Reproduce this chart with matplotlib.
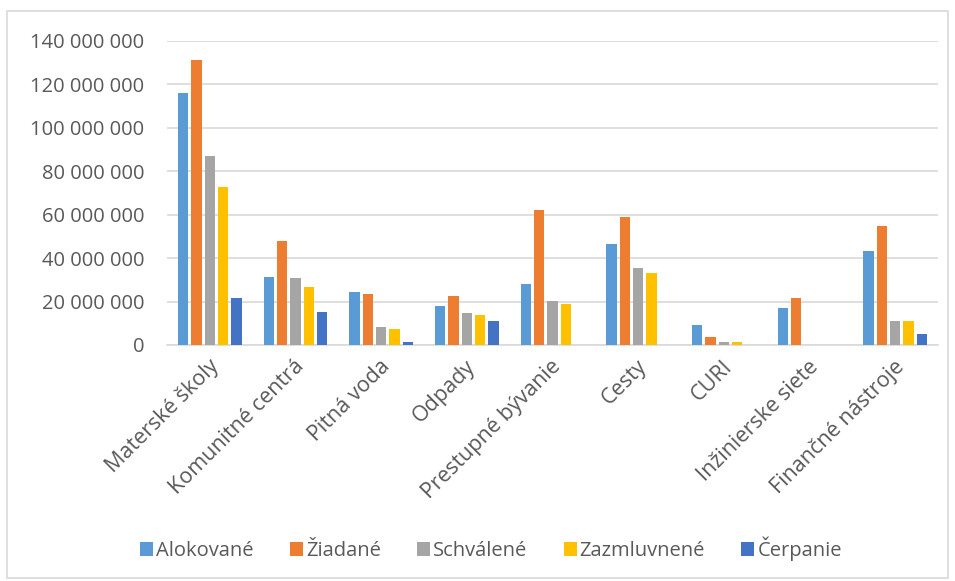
import numpy as np
import matplotlib
matplotlib.use("Agg")
import matplotlib.pyplot as plt
from matplotlib.patches import Rectangle
from matplotlib.ticker import FuncFormatter

categories = ["Materské školy", "Komunitné centrá", "Pitná voda", "Odpady",
              "Prestupné bývanie", "Cesty", "CURI", "Inžinierske siete",
              "Finančné nástroje"]
series_names = ["Alokované", "Žiadané", "Schválené", "Zazmluvnené", "Čerpanie"]

# values in millions
alokovane = [116.1, 31.5, 24.6, 17.8, 28.3, 46.5, 9.2, 17.1, 43.3]
ziadane = [131.2, 47.8, 23.4, 22.6, 62.1, 59.1, 3.7, 21.5, 54.7]
schvalene = [87.0, 30.7, 8.2, 14.7, 20.3, 35.5, 1.4, 0.0, 11.1]
zazmluvnene = [72.7, 26.6, 7.2, 13.7, 18.7, 33.2, 1.4, 0.0, 11.1]
cerpanie = [21.8, 15.1, 1.6, 11.2, 0.0, 0.0, 0.0, 0.0, 5.2]

colors = ["#5B9BD5", "#ED7D31", "#A5A5A5", "#FFC000", "#4472C4"]

plt.rcParams["font.family"] = ["Open Sans", "DejaVu Sans"]
FS = 14.5

fig = plt.figure(figsize=(9.55, 5.81), dpi=100)
ax = fig.add_axes([167 / 955, 1 - 345 / 581, 771 / 955, 304 / 581])

x = np.arange(len(categories))
step = 0.156
width = 0.123
all_series = [alokovane, ziadane, schvalene, zazmluvnene, cerpanie]
for i, (name, vals, col) in enumerate(zip(series_names, all_series, colors)):
    ax.bar(x + (i - 2) * step, np.array(vals) * 1e6, width, color=col, label=name, zorder=3)

ax.set_xlim(-0.5, len(categories) - 0.5)
ax.set_ylim(0, 140e6)
ax.set_yticks(np.arange(0, 140e6 + 1, 20e6))
ax.yaxis.set_major_formatter(FuncFormatter(lambda v, p: f"{int(v):,}".replace(",", " ")))
ax.grid(axis="y", color="#d9d9d9", lw=1.2, zorder=0)
for s in ["top", "right", "left"]:
    ax.spines[s].set_visible(False)
ax.spines["bottom"].set_color("#d9d9d9")
ax.spines["bottom"].set_linewidth(1.2)
ax.tick_params(axis="both", length=0, colors="#595959", labelsize=FS)
ax.tick_params(axis="y", pad=16.5)
ax.set_xticks(x - 0.02)
ax.set_xticklabels(categories, rotation=45, ha="right", rotation_mode="anchor", fontsize=15.5)
ax.tick_params(axis="x", pad=8)

fig.legend(loc="center", bbox_to_anchor=(0.514, 1 - 549 / 581), ncol=5, frameon=False,
           handlelength=0.65, handleheight=0.65, handletextpad=0.15, columnspacing=1.8,
           fontsize=FS, labelcolor="#595959")

fig.patches.append(Rectangle((7 / 955, 1 - 578 / 581), 941 / 955, 567 / 581,
                             transform=fig.transFigure, fill=False,
                             edgecolor="#d9d9d9", lw=1.2))

fig.savefig("out.png", dpi=100)
